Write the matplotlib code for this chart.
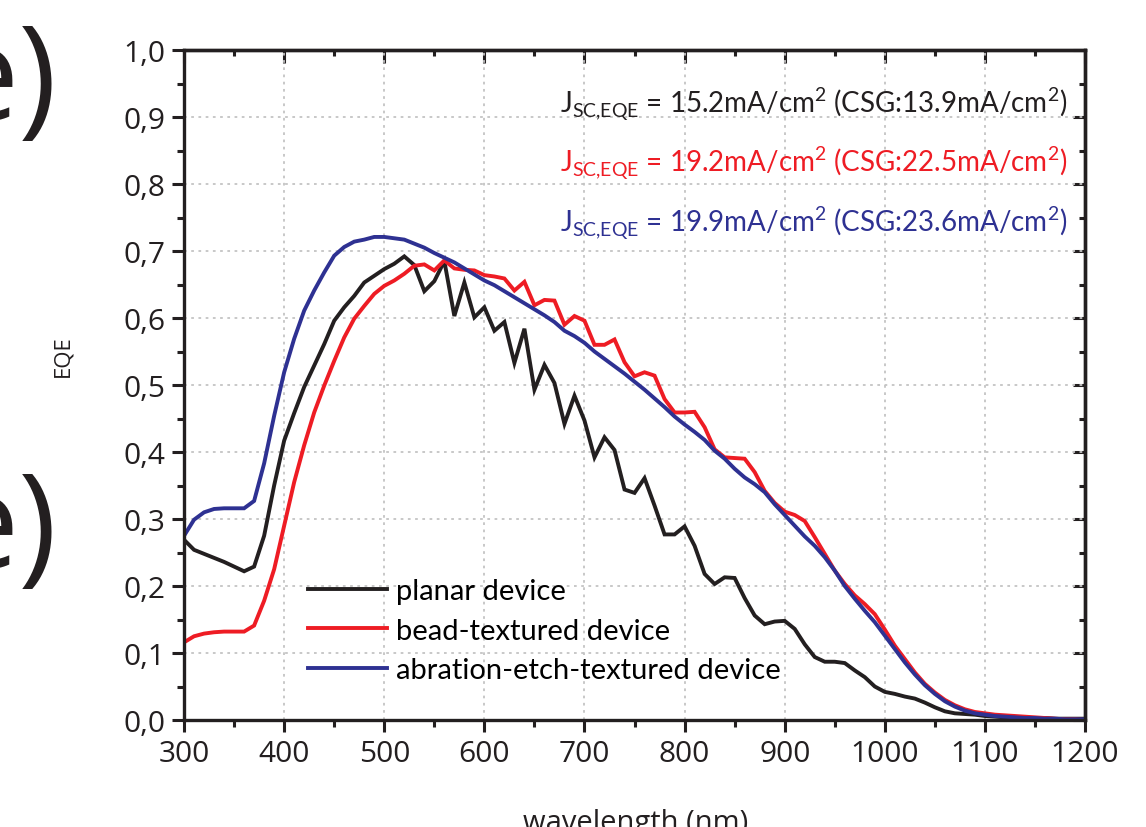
import numpy as np
from matplotlib import pyplot as plt
from matplotlib.ticker import MultipleLocator, FuncFormatter

# wavelength grid (nm), one point every 10 nm
wavelength = list(range(300, 1201, 10))

eqe_planar = [
    0.269, 0.254, 0.248, 0.242, 0.236, 0.229, 0.222, 0.229, 0.275, 0.350,
    0.417, 0.458, 0.497, 0.529, 0.561, 0.596, 0.616, 0.633, 0.653, 0.663,
    0.673, 0.681, 0.692, 0.679, 0.640, 0.655, 0.685, 0.603, 0.653, 0.601,
    0.616, 0.581, 0.594, 0.533, 0.584, 0.493, 0.530, 0.503, 0.442, 0.484,
    0.447, 0.392, 0.422, 0.403, 0.344, 0.339, 0.361, 0.320, 0.277, 0.277,
    0.289, 0.260, 0.218, 0.203, 0.213, 0.212, 0.182, 0.156, 0.143, 0.147,
    0.148, 0.136, 0.113, 0.094, 0.087, 0.087, 0.085, 0.074, 0.064, 0.050,
    0.042, 0.039, 0.035, 0.032, 0.026, 0.019, 0.013, 0.010, 0.009, 0.008,
    0.006, 0.005, 0.004, 0.004, 0.003, 0.003, 0.003, 0.002, 0.002, 0.002,
    0.002,
]

eqe_bead = [
    0.116, 0.125, 0.129, 0.131, 0.132, 0.132, 0.132, 0.141, 0.178, 0.225,
    0.290, 0.355, 0.410, 0.459, 0.499, 0.536, 0.571, 0.599, 0.618, 0.636,
    0.648, 0.656, 0.666, 0.678, 0.680, 0.671, 0.686, 0.674, 0.672, 0.671,
    0.664, 0.662, 0.659, 0.641, 0.654, 0.619, 0.627, 0.626, 0.590, 0.603,
    0.596, 0.560, 0.560, 0.568, 0.534, 0.513, 0.519, 0.514, 0.479, 0.459,
    0.459, 0.460, 0.437, 0.404, 0.392, 0.391, 0.390, 0.370, 0.342, 0.324,
    0.311, 0.306, 0.297, 0.273, 0.248, 0.223, 0.203, 0.186, 0.173, 0.158,
    0.135, 0.111, 0.091, 0.071, 0.054, 0.041, 0.030, 0.022, 0.016, 0.012,
    0.010, 0.008, 0.007, 0.006, 0.005, 0.004, 0.003, 0.002, 0.001, 0.001,
    0.000,
]

eqe_abration = [
    0.275, 0.299, 0.310, 0.315, 0.316, 0.316, 0.316, 0.327, 0.383, 0.454,
    0.519, 0.569, 0.611, 0.641, 0.668, 0.693, 0.706, 0.714, 0.717, 0.721,
    0.721, 0.719, 0.717, 0.711, 0.705, 0.697, 0.690, 0.683, 0.674, 0.665,
    0.656, 0.649, 0.640, 0.631, 0.622, 0.613, 0.604, 0.594, 0.581, 0.573,
    0.563, 0.550, 0.539, 0.528, 0.517, 0.505, 0.493, 0.480, 0.467, 0.453,
    0.441, 0.430, 0.418, 0.402, 0.390, 0.375, 0.362, 0.352, 0.340, 0.322,
    0.306, 0.290, 0.274, 0.260, 0.243, 0.223, 0.200, 0.181, 0.163, 0.146,
    0.126, 0.106, 0.086, 0.068, 0.052, 0.039, 0.028, 0.020, 0.014, 0.010,
    0.008, 0.006, 0.005, 0.004, 0.003, 0.003, 0.002, 0.002, 0.001, 0.001,
    0.001,
]

labels = ['planar device', 'bead-textured device', 'abration-etch-textured device']
jsc_eqe = ['15.2', '19.2', '19.9']
jsc_csg = ['13.9', '22.5', '23.6']
colors = ['#231f20', '#ee1c24', '#2e3192']

plt.rcParams['font.family'] = ['Open Sans', 'DejaVu Sans']
plt.rcParams['mathtext.fontset'] = 'custom'
plt.rcParams['mathtext.rm'] = 'Lato'


def main():
    fig = plt.figure(figsize=(11.46, 8.28), dpi=100)
    ax = fig.add_axes([0.1606, 0.1292, 0.7862, 0.8092])

    series = [eqe_planar, eqe_bead, eqe_abration]
    for y, lab, c in zip(series, labels, colors):
        ax.plot(wavelength, y, color=c, lw=2.8, label=lab, solid_joinstyle='miter')

    ax.set_xlim(300, 1200)
    ax.set_ylim(0, 1.0)
    ax.xaxis.set_major_locator(MultipleLocator(100))
    ax.xaxis.set_minor_locator(MultipleLocator(50))
    ax.yaxis.set_major_locator(MultipleLocator(0.1))
    ax.yaxis.set_minor_locator(MultipleLocator(0.05))
    ax.yaxis.set_major_formatter(FuncFormatter(lambda v, p: '{:.1f}'.format(v).replace('.', ',')))

    # 网格: 浅灰点线
    ax.grid(True, which='major', color='#c4c4c4', lw=1.3, linestyle=(0, (1.5, 2.5)))
    ax.set_axisbelow(True)

    for s in ax.spines.values():
        s.set_linewidth(2.4)
        s.set_color('#231f20')
    ax.tick_params(which='both', direction='out', width=2.2, color='#231f20',
                   labelsize=21.5, labelcolor='#231f20', top=False, right=False)
    ax.tick_params(which='major', length=8.5, pad=5)
    ax.tick_params(which='minor', length=5)

    # 顶部和右侧刻度朝内
    ax2 = ax.secondary_xaxis('top')
    ax2.xaxis.set_major_locator(MultipleLocator(100))
    ax2.xaxis.set_minor_locator(MultipleLocator(50))
    ax2.tick_params(which='both', direction='in', width=2.2, color='#231f20', labeltop=False)
    ax2.tick_params(which='major', length=9)
    ax2.tick_params(which='minor', length=4.5)
    ax2.spines['top'].set_linewidth(2.4)
    ax3 = ax.secondary_yaxis('right')
    ax3.yaxis.set_major_locator(MultipleLocator(0.1))
    ax3.yaxis.set_minor_locator(MultipleLocator(0.05))
    ax3.tick_params(which='both', direction='in', width=2.2, color='#231f20', labelright=False)
    ax3.tick_params(which='major', length=9)
    ax3.tick_params(which='minor', length=4.5)
    ax3.spines['right'].set_linewidth(2.4)

    # 纵轴标题
    fig.text(63 / 1146, 1 - 356 / 828, 'EQE', fontsize=16, color='#231f20',
             rotation=90, ha='center', va='center')

    # J_sc 标注
    for i in range(3):
        txt = (r'J$_{\mathregular{SC{,}EQE}}$ = ' + jsc_eqe[i] + r'mA/cm$^{\mathregular{2}}$ (CSG:'
               + jsc_csg[i] + r'mA/cm$^{\mathregular{2}}$)')
        ax.text(676, 0.907 - i * 0.0885, txt, color=colors[i], fontsize=20,
                family=['Lato', 'DejaVu Sans'], va='baseline', ha='left')

    ax.legend(loc='upper left', bbox_to_anchor=(0.138, 0.212), frameon=False,
              prop={'family': ['Lato', 'DejaVu Sans'], 'size': 21},
              handlelength=2.7, handletextpad=0.3, labelspacing=0.47,
              borderpad=0, borderaxespad=0)

    # 裁切掉的面板标记和横轴标题
    fig.text(-0.047, 1 - 120 / 828, 'e)', fontsize=94, color='#231f20', va='baseline')
    fig.text(-0.047, 1 - 568 / 828, 'e)', fontsize=94, color='#231f20', va='baseline')
    fig.text(0.555, 1 - 831 / 828, 'wavelength (nm)', fontsize=21, color='#231f20',
             ha='center', va='baseline')

    fig.savefig('out.png', dpi=100)


if __name__ == '__main__':
    main()
